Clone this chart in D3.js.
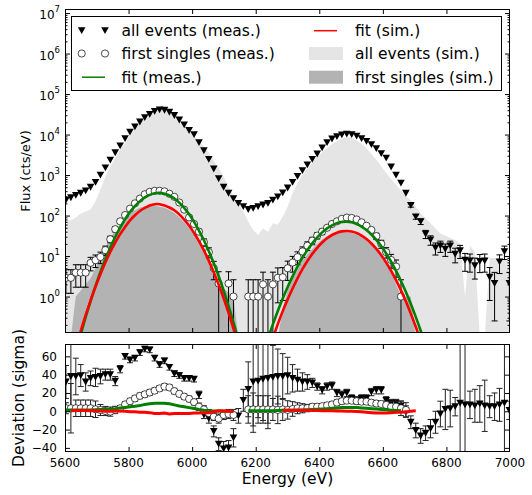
<!DOCTYPE html>
<html lang="en">
<head>
<meta charset="utf-8">
<script src="https://d3js.org/d3.v7.min.js"></script>
<style>
  body { margin: 0; background: #fff; }
  svg text { font-family: "DejaVu Sans", sans-serif; fill: #000; }
</style>
</head>
<body>
<script>
// energy bins (eV)
const energy = [
  5603, 5618.5, 5634, 5649.5, 5665, 5680.5, 5696, 5711.5, 5727, 5742.5,
  5758, 5773.5, 5789, 5804.5, 5820, 5835.5, 5851, 5866.5, 5882, 5897.5,
  5913, 5928.5, 5944, 5959.5, 5975, 5990.5, 6006, 6021.5, 6037, 6052.5,
  6068, 6083.5, 6099, 6114.5, 6130, 6145.5, 6161, 6176.5, 6192, 6207.5,
  6223, 6238.5, 6254, 6269.5, 6285, 6300.5, 6316, 6331.5, 6347, 6362.5,
  6378, 6393.5, 6409, 6424.5, 6440, 6455.5, 6471, 6486.5, 6502, 6517.5,
  6533, 6548.5, 6564, 6579.5, 6595, 6610.5, 6626, 6641.5, 6657, 6672.5,
  6688, 6703.5, 6719, 6734.5, 6750, 6765.5, 6781, 6796.5, 6812, 6827.5,
  6843, 6858.5, 6874, 6889.5, 6905, 6920.5, 6936, 6951.5, 6967, 6982.5,
  6998
];

// flux, all events (meas.)
const allEvents = [
  240, 275, 316, 355, 407, 500, 660, 1000, 1510, 2340,
  3550, 5250, 7940, 11500, 15500, 20400, 26300, 31600, 37200, 40700,
  39800, 35500, 29500, 22900, 17400, 12600, 10000, 6300, 3980, 2450,
  1410, 810, 500, 355, 263, 200, 166, 141, 151, 166,
  182, 200, 240, 288, 363, 479, 660, 930, 1290, 1780,
  2450, 3310, 4680, 6310, 7760, 8910, 9770, 10200, 10000, 9120,
  7940, 6760, 5620, 4470, 3390, 2630, 1580, 1000, 631, 355,
  178, 93, 71, 35, 25, 15.8, 17.8, 14.8, 17.8, 11.2,
  13.5, 7.9, 7.6, 5.8, 7.4, 7.6, 3.0, 2.1, 7.2, 12.9,
  2.1
];
const allEventsErr = [
  0, 0, 0, 0, 0, 0, 0, 0, 0, 0,
  0, 0, 0, 0, 0, 0, 0, 0, 0, 0,
  0, 0, 0, 0, 0, 0, 0, 0, 0, 0,
  0, 0, 0, 0, 0, 0, 0, 0, 0, 0,
  0, 0, 0, 0, 0, 0, 0, 0, 0, 0,
  0, 0, 0, 0, 0, 0, 0, 0, 0, 0,
  0, 0, 0, 0, 0, 0, 0, 0, 0, 0,
  17, 12, 11, 8, 6.5, 5.2, 5.5, 5, 5.5, 4.4,
  4.8, 3.7, 3.6, 3.1, 3.5, 3.6, 2.2, 1.85, 3.5, 4.7,
  1.85
];

// flux, first singles (meas.)
const firstSingles = [
  2.9, 2.9, 3.9, 3.9, 3.9, 6.8, 7.9, 9.5, 14, 26,
  46, 72, 103, 148, 200, 262, 335, 385, 408, 410,
  395, 345, 290, 210, 140, 90, 62, 40, 22, 12.5,
  5.0, 2.1, null, 2.1, 1.0, null, null, 1.0, 1.0, 1.0,
  2.0, 1.0, 2.0, 2.9, 3.0, 5.0, 6.9, 9.4, 13, 18,
  24, 32, 40, 50, 62, 72, 83, 89, 87, 80,
  68, 56, 44, 31, 20, 12.5, 8.0, 5.5, 1.0, null,
  null, null, null, null, null, null, null, null, null, null,
  null, null, null, null, null, null, null, null, null, null,
  null
];
const firstSinglesErr = [
  1.7, 1.7, 2.2, 2.2, 2.2, 2.5, 2.7, 3, 3.6, 4.8,
  6.5, 8, 10, 0, 0, 0, 0, 0, 0, 0,
  0, 0, 0, 0, 0, 9, 7.5, 6, 4.5, 3.5,
  2.4, 2.0, 0, 2.0, 1.6, 0, 0, 1.6, 1.6, 1.6,
  2.0, 1.6, 2.0, 2.2, 2.2, 2.5, 2.9, 3.3, 3.8, 4.4,
  5, 5.6, 6.3, 0, 0, 0, 0, 0, 0, 0,
  0, 0, 0, 5.5, 4.5, 3.6, 3.0, 2.5, 1.6, 0,
  0, 0, 0, 0, 0, 0, 0, 0, 0, 0,
  0, 0, 0, 0, 0, 0, 0, 0, 0, 0,
  0
];

// fits in flux panel (bins 1-35 and 40-73)
const fitMeasLeft = [0.0135, 0.0407, 0.115, 0.309, 0.776, 1.82, 4.07, 8.32, 16.2, 29.5,
  50.1, 81.3, 122, 170, 226, 282, 324, 355, 363, 347,
  313, 263, 209, 155, 107, 70, 42.7, 24.5, 13.2, 6.61,
  3.16, 1.41, 0.589, 0.229, 0.083];
const fitMeasRight = [0.038, 0.0906, 0.205, 0.441, 0.898, 1.73, 3.16, 5.48, 9.02, 14.0,
  20.7, 29.0, 38.5, 48.3, 57.5, 65.0, 69.7, 70.8, 67.9, 61.9,
  53.6, 43.9, 34.0, 25.1, 17.5, 11.6, 7.24, 4.31, 2.43, 1.29,
  0.655, 0.314, 0.143, 0.0615];
const fitSimLeft = [0.0195, 0.054, 0.141, 0.347, 0.794, 1.74, 3.55, 6.92, 12.6, 21.4,
  34.7, 52.5, 75.9, 102, 130, 155, 178, 191, 191, 178,
  158, 135, 107, 79.4, 56.2, 37.2, 23.4, 13.8, 7.59, 3.98,
  1.95, 0.91, 0.398, 0.162, 0.063];
const fitSimRight = [0.0164, 0.0407, 0.0933, 0.209, 0.437, 0.851, 1.58, 2.82, 4.73, 7.52,
  11.3, 16.0, 21.6, 27.4, 33.1, 37.8, 40.7, 41.7, 40.4, 37.0,
  32.1, 26.3, 20.4, 15.0, 10.5, 6.90, 4.31, 2.54, 1.42, 0.752,
  0.377, 0.179, 0.080, 0.034];

// simulated spectra (filled)
const allSim = [
  78, 76, 89, 112, 126, 141, 224, 447, 891, 1580,
  2630, 4170, 6310, 9330, 13500, 19100, 26300, 34700, 42700, 49000,
  47900, 41700, 33100, 25100, 18600, 13500, 9550, 6920, 5010, 3550,
  2240, 1510, 891, 501, 316, 209, 126, 71, 44, 33,
  48, 40, 65, 59, 93, 166, 355, 631, 1000, 1410,
  2000, 2820, 3630, 4570, 5750, 6920, 7940, 8710, 8320, 7240,
  5890, 4570, 3310, 2400, 1660, 1120, 794, 575, 417, 302,
  240, 166, 112, 85, 65, 48, 36, 32, 28, 25,
  20, 1, 18, 12.6, 0.01, 0.01, 8.9, 8.9, 7.9, 7.9,
  7.1
];
const firstSim = [
  0.01, 0.01, 1.0, 1.41, 2.0, 2.82, 5.0, 10, 17, 28,
  41.7, 60, 83, 110, 135, 155, 170, 178, 174, 166,
  155, 138, 115, 91, 68, 48, 33, 21, 12.6, 6.9,
  3.5, 1.78, 1.58, 1.26, 1.0, 0.01, 0.01, 0.01, 0.01, 0.01,
  0.01, 0.01, 0.01, 0.01, 0.5, 1.41, 2.82, 4.5, 7.5, 11,
  15, 20, 26, 31, 35, 37.5, 38.5, 38.5, 37, 34,
  30, 25, 19.5, 14.5, 10, 6.5, 4.0, 2.0, 1.0, 1.0,
  1.0, 0.01, 0.01, 0.01, 0.01, 0.01, 0.01, 0.01, 0.01, 0.01,
  0.01, 0.01, 0.01, 0.01, 0.01, 0.01, 0.01, 0.01, 0.01, 0.01,
  0.01
];

// deviation panel (sigma)
const devAll = [
  32, 38, 38, 39, 32, 36, 37, 38, 40, 40,
  33, 46, 60, 56, 58, 64, 68, 67, 58, 51,
  55, 48, 41, 39, 36, 36, 35, 18, -4, -8,
  -22, -36, -41, -40, -29, -5, 12, 24, 32, 33,
  35, 36, 37, 38, 38, 39, 36, 34, 32, 32,
  31, 27, 23, 27, 28, 20, 18, 20, 14, 12,
  14, 14, 21, 23, 23, 12, 9, 9, 6, 0,
  -12, -21, -27, -24, -19, -12, -3, 2, 3, 5,
  9, 7, 7, 6, 8, 6, 5, 5, 7, 9,
  1
];
const devAllErr = [
  18, 35, 20, 12, 10, 8, 10, 8, 6, 6,
  5, 4, 3, 3, 3, 3, 3, 3, 3, 3,
  3, 3, 3, 3, 3, 3, 3, 4, 4, 5,
  6, 7, 8, 8, 10, 8, 12, 30, 55, 40,
  45, 55, 35, 30, 25, 20, 15, 12, 10, 8,
  5, 4, 4, 4, 4, 4, 4, 4, 4, 4,
  4, 4, 4, 4, 4, 4, 4, 4, 5, 6,
  7, 8, 8, 8, 10, 12, 14, 22, 20, 10,
  200, 200, 15, 18, 20, 28, 12, 15, 18, 200,
  10
];
const devFirst = [
  3.3, 3.3, 3.3, 3.3, 3.3, 3.3, 2.2, 1.4, 0.3, -0.4,
  1.4, 3.3, 7.5, 11, 14, 16.8, 18.5, 20.5, 22.5, 25,
  27, 26, 22, 19, 16, 13.5, 10, 5, 2, -2,
  -6, -8, -4, -3, -4, null, null, 2, 2, 2,
  2, 2, 2, 1.5, 2, 1.5, 2.5, 3.3, 3.3, 3.5,
  5, 5, 5.5, 6.5, 7.5, 9.5, 11, 11.6, 11.6, 11,
  10.5, 10.5, 9.4, 8.5, 8, 6.9, 5, 5, 3.3, 1.4,
  null, null, null, null, null, null, null, null, null, null,
  null, null, null, null, null, null, null, null, null, null,
  null
];
const devFirstErr = [
  6, 27, 9, 9, 9, 9, 9, 6, 5, 5,
  4, 3, 3, 3, 3, 3, 3, 3, 3, 3,
  3, 3, 3, 3, 3, 3, 3, 4, 4, 4,
  4, 5, 5, 5, 6, 0, 0, 15, 18, 15,
  15, 15, 12, 15, 12, 10, 8, 6, 5, 4,
  3, 3, 3, 3, 3, 3, 3, 3, 3, 3,
  3, 3, 3, 3, 3, 4, 6, 6, 8, 8,
  0, 0, 0, 0, 0, 0, 0, 0, 0, 0,
  0, 0, 0, 0, 0, 0, 0, 0, 0, 0,
  0
];
const devFitMeas = [
  1.5, 1.5, 1.5, 1.5, 1.5, 1.5, 1.8, 2, 2, 2.3,
  2.8, 3.5, 4.2, 5, 5.5, 6.2, 7.5, 8.2, 8.7, 8.7,
  8.7, 8.2, 7, 5.8, 5, 4, 3, 2, 1.2, 0.6,
  0.3, 0.2, 0, 0, 0, null, null, 0.5, 0.5, 0.5,
  0.5, 0.5, 0.5, 0.8, 1, 1, 1.2, 1.3, 1.5, 1.8,
  2, 2.2, 2.5, 2.8, 3.2, 3.6, 4, 4.2, 4.2, 4,
  3.6, 3.2, 2.8, 2.4, 2, 1.6, 1.2, 0.8, 0.5, null,
  null, null, null, null, null, null, null, null, null, null,
  null, null, null, null, null, null, null, null, null, null,
  null
];
const devFitSim = [
  null, 0.5, 0.8, 0.8, 0.8, 0.5, 0.5, 0.3, 0, 0,
  0.3, 0.3, 0, -0.5, -0.5, -1, -1, -1.5, -2.5, -2.5,
  -2, -3, -2.5, -2.5, -2.5, -2.5, -2, -2, -1.5, -1.5,
  -0.5, 0.5, 0.3, 0, 0, null, null, null, null, null,
  null, null, null, null, 1, 1, 1, 1, 1, 1,
  0.8, 0.8, 0.6, 0.5, 0.5, 0.3, 0.3, 0, 0, -0.3,
  -0.5, -1, -1.5, -2, -2, -2, -1.5, -1.2, -1, -0.5,
  0, 0.5, null, null, null, null, null, null, null, null,
  null, null, null, null, null, null, null, null, null, null,
  null
];

const energyTicks = [5600, 5800, 6000, 6200, 6400, 6600, 6800, 7000];
const devTicks = [-40, -20, 0, 20, 40, 60];
const fluxDecades = [0, 1, 2, 3, 4, 5, 6, 7];

const legendLeft = ["all events (meas.)", "first singles (meas.)", "fit (meas.)"];
const legendRight = ["fit (sim.)", "all events (sim.)", "first singles (sim.)"];

const colLight = "#e5e5e5", colDark = "#b3b3b3", colGreen = "#008000", colRed = "#ff0000";

const W = 532, H = 495;
const left = 65, right = 510;
const fTop = 9, fBot = 333;
const dTop = 344, dBot = 452;

const svg = d3.select("body").append("svg")
    .attr("width", W).attr("height", H)
    .style("background", "#fff");

const x = d3.scaleLinear().domain([5600, 7000]).range([left, right]);
const yFlux = d3.scaleLog().domain([Math.pow(10, -0.9), Math.pow(10, 7.1)]).range([fBot, fTop]);
const yDev = d3.scaleLinear().domain([-44.5, 73.5]).range([dBot, dTop]);

const defs = svg.append("defs");
defs.append("clipPath").attr("id", "clipF").append("rect")
    .attr("x", left).attr("y", fTop).attr("width", right - left).attr("height", fBot - fTop);
defs.append("clipPath").attr("id", "clipD").append("rect")
    .attr("x", left).attr("y", dTop).attr("width", right - left).attr("height", dBot - dTop);

const gF = svg.append("g").attr("clip-path", "url(#clipF)");
const gD = svg.append("g").attr("clip-path", "url(#clipD)");

const tri = "M-3.8,-3.4L3.8,-3.4L0,3.4Z";

// ---- flux panel ----
const area = d3.area()
    .x((d, i) => x(energy[i]))
    .y0(fBot + 5)
    .y1(d => Math.min(yFlux(d), fBot + 5));

gF.append("path").datum(allSim).attr("d", area).attr("fill", colLight);
gF.append("path").datum(firstSim).attr("d", area).attr("fill", colDark);

function errorbars(g, vals, errs, y, logScale, color) {
  vals.forEach((v, i) => {
    if (v == null || !errs[i]) return;
    const px = x(energy[i]);
    const hi = y(v + errs[i]);
    const lo = (logScale && v - errs[i] <= 0) ? 2000 : y(v - errs[i]);
    g.append("line").attr("x1", px).attr("x2", px).attr("y1", hi).attr("y2", lo)
        .attr("stroke", color).attr("stroke-width", 1);
    [hi, lo].forEach(yy => {
      g.append("line").attr("x1", px - 3).attr("x2", px + 3).attr("y1", yy).attr("y2", yy)
          .attr("stroke", color).attr("stroke-width", 1);
    });
  });
}

function triangles(g, vals, y) {
  g.selectAll(null).data(vals.map((v, i) => [energy[i], v]).filter(d => d[1] != null))
    .enter().append("path")
    .attr("d", tri)
    .attr("transform", d => "translate(" + x(d[0]) + "," + y(d[1]) + ")")
    .attr("fill", "#000");
}

function circles(g, vals, y) {
  g.selectAll(null).data(vals.map((v, i) => [energy[i], v]).filter(d => d[1] != null))
    .enter().append("circle")
    .attr("cx", d => x(d[0])).attr("cy", d => y(d[1])).attr("r", 3.6)
    .attr("fill", "#fff").attr("stroke", "#000").attr("stroke-width", 0.7);
}

errorbars(gF, allEvents, allEventsErr, yFlux, true, "#000");
triangles(gF, allEvents, yFlux);
errorbars(gF, firstSingles, firstSinglesErr, yFlux, true, "#000");
circles(gF, firstSingles, yFlux);

function fitLine(g, vals, start, y, color, w, curve) {
  const ln = d3.line().x((d, i) => x(energy[start + i])).y(d => y(d));
  if (curve) ln.curve(curve);
  g.append("path").datum(vals).attr("d", ln)
      .attr("fill", "none").attr("stroke", color).attr("stroke-width", w);
}
fitLine(gF, fitMeasLeft, 1, yFlux, colGreen, 2.6, d3.curveCatmullRom);
fitLine(gF, fitMeasRight, 40, yFlux, colGreen, 2.6, d3.curveCatmullRom);
fitLine(gF, fitSimLeft, 1, yFlux, colRed, 2.6, d3.curveCatmullRom);
fitLine(gF, fitSimRight, 40, yFlux, colRed, 2.6, d3.curveCatmullRom);

// ---- deviation panel ----
errorbars(gD, devAll, devAllErr, yDev, false, "#222");
triangles(gD, devAll, yDev);
errorbars(gD, devFirst, devFirstErr, yDev, false, "#222");
circles(gD, devFirst, yDev);

const devLine = d3.line().defined(d => d != null).x((d, i) => x(energy[i])).y(d => yDev(d));
gD.append("path").datum(devFitMeas).attr("d", devLine)
    .attr("fill", "none").attr("stroke", colGreen).attr("stroke-width", 3);
gD.append("path").datum(devFitSim).attr("d", devLine)
    .attr("fill", "none").attr("stroke", colRed).attr("stroke-width", 3);

// ---- axes ----
function ticks(axis, pos, transform) {
  svg.append("g").attr("transform", transform).call(axis)
    .call(g => g.select(".domain").remove())
    .call(g => g.selectAll("line").attr("stroke", "#000"));
}
const innerX = energyTicks.slice(1, -1);
ticks(d3.axisBottom(x).tickValues(innerX).tickSize(-5).tickFormat(""), 0, "translate(0," + fBot + ")");
ticks(d3.axisTop(x).tickValues(innerX).tickSize(-5).tickFormat(""), 0, "translate(0," + fTop + ")");
ticks(d3.axisBottom(x).tickValues(innerX).tickSize(-5).tickFormat(""), 0, "translate(0," + dBot + ")");
ticks(d3.axisTop(x).tickValues(innerX).tickSize(-5).tickFormat(""), 0, "translate(0," + dTop + ")");

const decadeVals = fluxDecades.map(p => Math.pow(10, p));
const minorVals = [];
for (let p = -1; p <= 7; p++) {
  for (let m = 2; m <= 9; m++) {
    const v = m * Math.pow(10, p);
    if (v > yFlux.domain()[0] && v < yFlux.domain()[1]) minorVals.push(v);
  }
}
ticks(d3.axisLeft(yFlux).tickValues(decadeVals).tickSize(-5).tickFormat(""), 0, "translate(" + left + ",0)");
ticks(d3.axisLeft(yFlux).tickValues(minorVals).tickSize(-2.5).tickFormat(""), 0, "translate(" + left + ",0)");
ticks(d3.axisRight(yFlux).tickValues(decadeVals).tickSize(-5).tickFormat(""), 0, "translate(" + right + ",0)");
ticks(d3.axisRight(yFlux).tickValues(minorVals).tickSize(-2.5).tickFormat(""), 0, "translate(" + right + ",0)");

const innerDev = devTicks;
ticks(d3.axisLeft(yDev).tickValues(innerDev).tickSize(-5).tickFormat(""), 0, "translate(" + left + ",0)");
ticks(d3.axisRight(yDev).tickValues(innerDev).tickSize(-5).tickFormat(""), 0, "translate(" + right + ",0)");

// frames
[[fTop, fBot], [dTop, dBot]].forEach(([a, b]) => {
  svg.append("rect").attr("x", left + 0.5).attr("y", a + 0.5)
      .attr("width", right - left - 1).attr("height", b - a - 1)
      .attr("fill", "none").attr("stroke", "#000").attr("stroke-width", 1);
});

// tick labels
fluxDecades.forEach(p => {
  const t = svg.append("text").attr("x", 60).attr("y", yFlux(Math.pow(10, p)) + 6)
      .attr("text-anchor", "end").style("font-size", "12px");
  t.append("tspan").text("10");
  t.append("tspan").attr("dy", -7).style("font-size", "8.5px").text(p);
});
devTicks.forEach(v => {
  svg.append("text").attr("x", 57).attr("y", yDev(v)).attr("dy", "0.36em")
      .attr("text-anchor", "end").style("font-size", "12px")
      .text(v < 0 ? "\u2212" + Math.abs(v) : v);
});
energyTicks.forEach(v => {
  svg.append("text").attr("x", x(v)).attr("y", dBot + 15)
      .attr("text-anchor", "middle").style("font-size", "12px").text(v);
});

// axis labels
svg.append("text").attr("transform", "translate(25," + (fTop + fBot) / 2 + ") rotate(-90)")
    .attr("text-anchor", "middle").attr("dy", "0.35em").style("font-size", "13px").text("Flux (cts/eV)");
svg.append("text").attr("transform", "translate(19," + (dTop + dBot) / 2 + ") rotate(-90)")
    .attr("text-anchor", "middle").attr("dy", "0.35em").style("font-size", "15.5px").text("Deviation (sigma)");
svg.append("text").attr("x", (left + right) / 2).attr("y", 484)
    .attr("text-anchor", "middle").style("font-size", "15.5px").text("Energy (eV)");

// legend
const lg = svg.append("g");
lg.append("rect").attr("x", 71.5).attr("y", 16.5).attr("width", 430).attr("height", 74)
    .attr("fill", "#fff").attr("stroke", "#000").attr("stroke-width", 1);
const rowY = [30.7, 53.5, 77.2];
[81.7, 105].forEach(px => {
  lg.append("path").attr("d", tri).attr("transform", "translate(" + px + "," + rowY[0] + ")").attr("fill", "#000");
  lg.append("circle").attr("cx", px).attr("cy", rowY[1]).attr("r", 3.6)
      .attr("fill", "#fff").attr("stroke", "#000").attr("stroke-width", 0.7);
});
lg.append("line").attr("x1", 82).attr("x2", 105).attr("y1", rowY[2]).attr("y2", rowY[2])
    .attr("stroke", colGreen).attr("stroke-width", 1.5);
lg.append("line").attr("x1", 314).attr("x2", 337).attr("y1", rowY[0]).attr("y2", rowY[0])
    .attr("stroke", colRed).attr("stroke-width", 1.5);
lg.append("rect").attr("x", 309).attr("y", rowY[1] - 6.5).attr("width", 34).attr("height", 13).attr("fill", colLight);
lg.append("rect").attr("x", 309).attr("y", rowY[2] - 6.5).attr("width", 34).attr("height", 13).attr("fill", colDark);
legendLeft.forEach((s, i) => {
  lg.append("text").attr("x", 121.5).attr("y", rowY[i] + 5.5).style("font-size", "15.5px").text(s);
});
legendRight.forEach((s, i) => {
  lg.append("text").attr("x", 355).attr("y", rowY[i] + 5.5).style("font-size", "15.5px").text(s);
});
</script>
</body>
</html>
